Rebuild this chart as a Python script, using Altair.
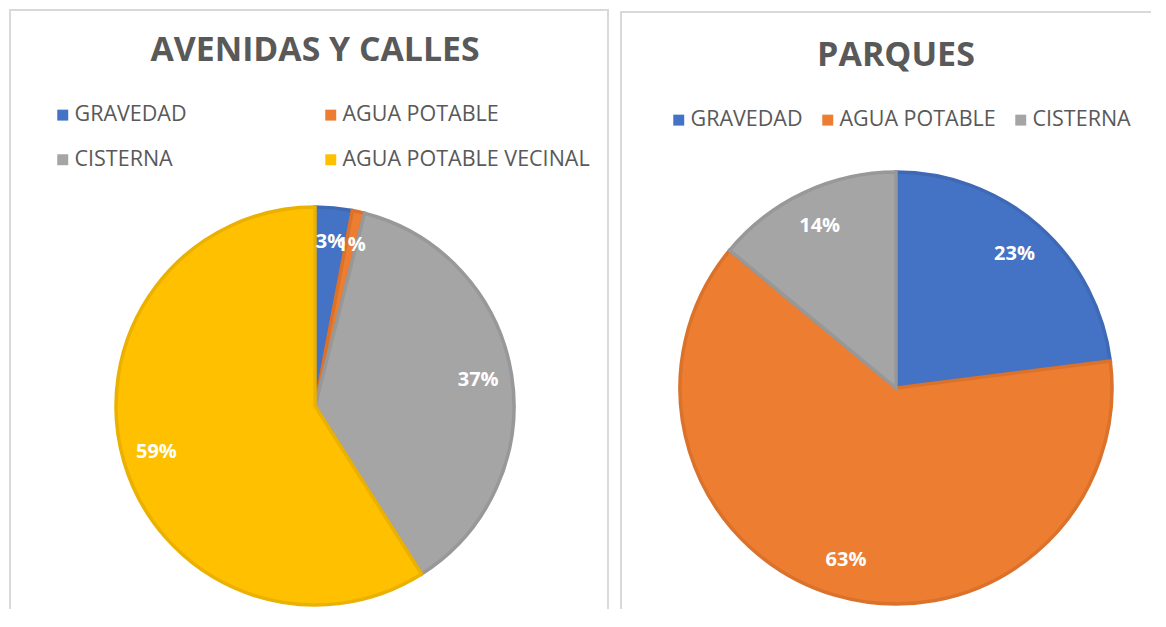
import altair as alt
import pandas as pd

# ---- data ----
left_title = "AVENIDAS Y CALLES"
left_cats = ["GRAVEDAD", "AGUA POTABLE", "CISTERNA", "AGUA POTABLE VECINAL"]
left_vals = [3, 1, 37, 59]
left_colors = ["#4472C4", "#ED7D31", "#A5A5A5", "#FFC000"]
left_edges = ["#3F69B5", "#DA722C", "#989898", "#EBB100"]

right_title = "PARQUES"
right_cats = ["GRAVEDAD", "AGUA POTABLE", "CISTERNA"]
right_vals = [23, 63, 14]
right_colors = ["#4472C4", "#ED7D31", "#A5A5A5"]
right_edges = ["#3F69B5", "#DA722C", "#989898"]

FONT = "Open Sans"


def make_df(cats, vals):
    return pd.DataFrame({
        "cat": cats,
        "val": vals,
        "idx": list(range(len(cats))),
        "lbl": [f"{v}%" for v in vals],
    })


def panel(title, cats, vals, colors, edges, W, H, cx, cy, r, title_x, title_y, title_size,
          leg_x, leg_y, leg_cols, leg_colpad, leg_rowpad, top_off=0, right_border=False):
    df = make_df(cats, vals)
    base = alt.Chart(df)
    arcs = base.mark_arc(strokeWidth=3.5, outerRadius=r).encode(
        theta=alt.Theta("val:Q", stack=True),
        order=alt.Order("idx:Q"),
        x=alt.value(cx),
        y=alt.value(cy),
        color=alt.Color(
            "cat:N",
            scale=alt.Scale(domain=cats, range=colors),
            legend=alt.Legend(
                title=None, orient="none", legendX=leg_x, legendY=leg_y,
                direction="horizontal",
                columns=leg_cols, columnPadding=leg_colpad, rowPadding=leg_rowpad,
                symbolType="square", symbolSize=120, symbolStrokeWidth=0,
                labelFont=FONT, labelFontSize=21.5, labelColor="#595959",
                labelOffset=1, labelLimit=400,
            ),
        ),
        stroke=alt.Stroke("cat:N", scale=alt.Scale(domain=cats, range=edges), legend=None),
    )
    labels = base.mark_text(font=FONT, fontSize=20, fontWeight="bold", color="white").encode(
        theta=alt.Theta("val:Q", stack=True),
        order=alt.Order("idx:Q"),
        radius=alt.value(r * 0.83),
        x=alt.value(cx),
        y=alt.value(cy),
        text="lbl:N",
    )
    ttl = alt.Chart(pd.DataFrame({"t": [title]})).mark_text(
        font=FONT, fontSize=title_size, fontWeight="bold", color="#595959"
    ).encode(x=alt.value(title_x), y=alt.value(title_y), text="t:N")
    one = pd.DataFrame({"a": [0]})
    border_top = alt.Chart(one).mark_rule(color="#D9D9D9", strokeWidth=2).encode(
        x=alt.value(0), x2=alt.value(W), y=alt.value(top_off + 1), y2=alt.value(top_off + 1))
    border_left = alt.Chart(one).mark_rule(color="#D9D9D9", strokeWidth=2).encode(
        x=alt.value(1), x2=alt.value(1), y=alt.value(top_off), y2=alt.value(H))
    layers = [border_top, border_left, arcs, labels, ttl]
    if right_border:
        border_right = alt.Chart(one).mark_rule(color="#D9D9D9", strokeWidth=2).encode(
            x=alt.value(W - 1), x2=alt.value(W - 1), y=alt.value(top_off), y2=alt.value(H))
        layers.append(border_right)
    return alt.layer(*layers).properties(width=W, height=H)


left = panel(left_title, left_cats, left_vals, left_colors, left_edges,
             W=600, H=600, cx=306, cy=397, r=199, title_x=306, title_y=42, title_size=33.8,
             leg_x=43, leg_y=95, leg_cols=2, leg_colpad=133, leg_rowpad=22,
             right_border=True)
right = panel(right_title, right_cats, right_vals, right_colors, right_edges,
              W=531, H=600, cx=276, cy=379, r=216, title_x=276, title_y=47, title_size=34,
              leg_x=48, leg_y=100, leg_cols=3, leg_colpad=14, leg_rowpad=10, top_off=2)

chart = alt.hconcat(left, right, spacing=9).resolve_scale(
    color="independent", stroke="independent", theta="independent"
).properties(padding=0, background="white").configure_view(
    stroke="transparent", strokeWidth=0
)

chart.save("out.html", embed_options={"renderer": "svg", "actions": False})
